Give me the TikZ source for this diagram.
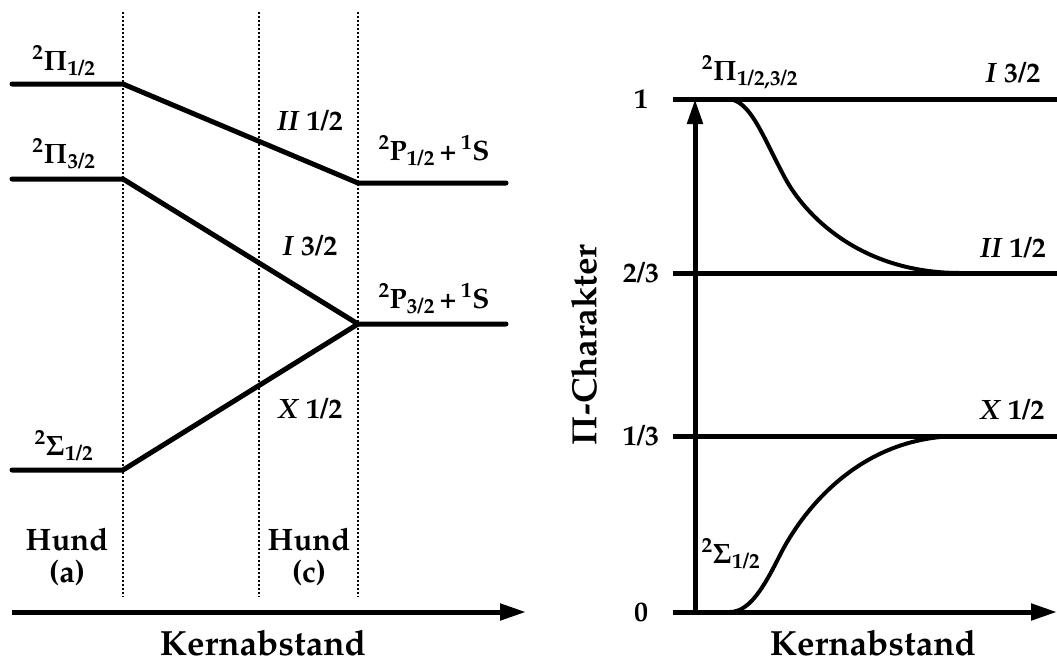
\documentclass[tikz,border=0pt]{standalone}
\usepackage[T1]{fontenc}
\usepackage{mathpazo}
\usetikzlibrary{arrows.meta}
\newcommand{\gPi}{{\boldmath$\Pi$}}
\newcommand{\gSig}{{\boldmath$\Sigma$}}
\newcommand{\tstate}[3]{\textsuperscript{#1}#2\textsubscript{#3}}

\begin{document}
\begin{tikzpicture}[x=1pt, y=-1pt, font=\fontsize{28}{32}\selectfont\bfseries, every node/.style={align=center, inner sep=0pt}]
\tikzset{
  level/.style={line width=5pt, line cap=round, line join=round},
  guide/.style={line width=2.2pt, dash pattern=on 2pt off 2pt},
  axis/.style={line width=5pt, -{Triangle[length=26pt, width=16pt]}},
  curve/.style={line width=4pt, line cap=round},
  big/.style={font=\fontsize{35}{40}\selectfont\bfseries},
  hund/.style={font=\fontsize{31}{32}\selectfont\bfseries}
}
\useasboundingbox (0,0) rectangle (1057,665);

% left: correlation diagram
\coordinate (pia0) at (12,84);   \coordinate (pia1) at (123,84);
\coordinate (pib0) at (12,179);  \coordinate (pib1) at (123,179);
\coordinate (sig0) at (12,470);  \coordinate (sig1) at (123,470);
\coordinate (p12a) at (358,183); \coordinate (p12b) at (506,183);
\coordinate (p32a) at (358,324); \coordinate (p32b) at (506,324);

\foreach \x in {123,259,358}
  \draw[guide] (\x,12) -- (\x,597);

\draw[level] (pia0) -- (pia1) -- (p12a) -- (p12b);
\draw[level] (pib0) -- (pib1) -- (p32a) -- (p32b);
\draw[level] (sig0) -- (sig1) -- (p32a);

\node[anchor=base] (lpia) at (64,70) {\tstate{2}{\gPi}{1/2}};
\node[anchor=base] (lpib) at (64,163) {\tstate{2}{\gPi}{3/2}};
\node[anchor=base] (lsig) at (64,455) {\tstate{2}{\gSig}{1/2}};
\node[anchor=base] (lII) at (310,130) {\textit{II} 1/2};
\node[anchor=base] (lI) at (310,255) {\textit{I} 3/2};
\node[anchor=base] (lX) at (310,418) {\textit{X} 1/2};
\node[anchor=base] (lp12) at (434,160) {\tstate{2}{P}{1/2}\,+\,\textsuperscript{1}S};
\node[anchor=base] (lp32) at (434,308) {\tstate{2}{P}{3/2}\,+\,\textsuperscript{1}S};
\node[hund] (hunda) at (67,557) {Hund\\(a)};
\node[hund] (hundc) at (309,557) {Hund\\(c)};

\coordinate (ax0) at (12,612); \coordinate (ax1) at (526,612);
\draw[axis] (ax0) -- (ax1);
\node[big, anchor=base] (kern1) at (263,655) {Kernabstand};

% right: Pi character
\coordinate (y0) at (695,613); \coordinate (y1) at (695,99);
\coordinate (one0) at (673,99);   \coordinate (one1) at (1057,99);
\coordinate (two0) at (673,273);  \coordinate (two1) at (1057,273);
\coordinate (thr0) at (673,436);  \coordinate (thr1) at (1057,436);
\coordinate (zer0) at (673,612);  \coordinate (zer1) at (1057,612);

\draw[level, line cap=butt] (one0) -- (one1);
\draw[level, line cap=butt] (two0) -- (two1);
\draw[level, line cap=butt] (thr0) -- (thr1);
\draw[axis] (zer0) -- (zer1);
\draw[line width=5pt, -{Triangle[length=25pt, width=15pt]}] (y0) -- (y1);

\draw[curve] (727,99) .. controls (750,99) and (762,135) .. (785,178)
  .. controls (805,215) and (860,273) .. (960,273);
\draw[curve] (730,612) .. controls (750,612) and (765,585) .. (780,555)
  .. controls (795,525) and (850,436) .. (960,436);

\node (t1) at (641,99) {1};
\node (t23) at (641,273) {2/3};
\node (t13) at (641,436) {1/3};
\node (t0) at (641,612) {0};

\node[anchor=base] (rpi) at (750,80) {\tstate{2}{\gPi}{1/2,3/2}};
\node[anchor=base] (rI) at (1013,82) {\textit{I} 3/2};
\node[anchor=base] (rII) at (1013,257) {\textit{II} 1/2};
\node[anchor=base] (rX) at (1012,419) {\textit{X} 1/2};
\node[anchor=base] (rsig) at (731,563) {\tstate{2}{\gSig}{1/2}};

\node[big, rotate=90] (ylab) at (584,345) {\gPi-Charakter};
\node[big, anchor=base] (kern2) at (873,655) {Kernabstand};
\end{tikzpicture}
\end{document}
